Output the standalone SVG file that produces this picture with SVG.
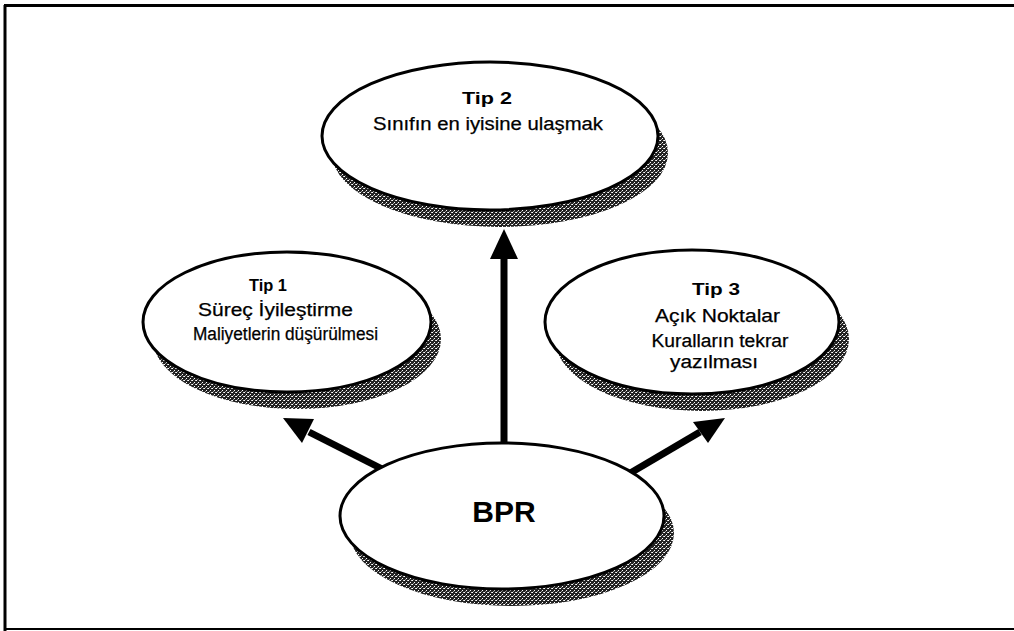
<svg xmlns="http://www.w3.org/2000/svg" width="1014" height="631" viewBox="0 0 1014 631">
<defs>
<pattern id="dither" width="4" height="4" patternUnits="userSpaceOnUse">
<rect width="4" height="4" fill="#222222"/>
<rect x="0" y="0" width="1" height="1" fill="#ffffff"/>
<rect x="2" y="2" width="1" height="1" fill="#ffffff"/>
<rect x="3" y="0" width="1" height="1" fill="#cccccc"/>
<rect x="1" y="3" width="1" height="1" fill="#999999"/>
</pattern>
<style>
.shadow{fill:url(#dither);stroke:none}
.node{fill:#ffffff;stroke:#000000;stroke-width:3}
.title{font-family:"Liberation Sans",Arial,sans-serif;font-weight:bold;font-size:17px;fill:#000;text-anchor:middle}
.body{font-family:"Liberation Sans",Arial,sans-serif;font-size:18px;fill:#000;text-anchor:middle;stroke:#000;stroke-width:0.25}
.big{font-family:"Liberation Sans",Arial,sans-serif;font-weight:bold;font-size:30px;fill:#000;text-anchor:middle}
.shaft{stroke:#000;stroke-width:7;fill:none}
.head{fill:#000;stroke:none}
</style>
</defs>
<rect width="1014" height="631" fill="#ffffff"/>
<g id="frame" fill="none" stroke="#000">
<line x1="5" y1="5" x2="5" y2="631" stroke-width="3"/>
<line x1="4" y1="5.5" x2="1014" y2="5.5" stroke-width="3"/>
<line x1="4" y1="629" x2="1014" y2="629" stroke-width="2"/>
</g>
<g id="connectors">
<line class="shaft" x1="504" y1="470" x2="504" y2="256"/>
<polygon class="head" points="504,229 490,259 518,259"/>
<line class="shaft" x1="400" y1="478" x2="309" y2="432"/>
<polygon class="head" points="283,418 314,419 302,443"/>
<line class="shaft" x1="610" y1="485" x2="700" y2="432"/>
<polygon class="head" points="725,418 693,422 708,443"/>
</g>
<g id="tip1">
<ellipse class="shadow" cx="297" cy="339" rx="144" ry="70"/>
<ellipse class="node" cx="287" cy="322" rx="144" ry="70"/>
<text class="title" x="268" y="291" textLength="38" lengthAdjust="spacingAndGlyphs">Tip 1</text>
<text class="body" x="275.5" y="316" textLength="155" lengthAdjust="spacingAndGlyphs">Süreç İyileştirme</text>
<text class="body" x="285.5" y="340" textLength="185" lengthAdjust="spacingAndGlyphs">Maliyetlerin düşürülmesi</text>
</g>
<g id="tip2">
<ellipse class="shadow" cx="500" cy="153" rx="168" ry="74"/>
<ellipse class="node" cx="490" cy="136" rx="168" ry="74"/>
<text class="title" x="487" y="104" textLength="50" lengthAdjust="spacingAndGlyphs">Tip 2</text>
<text class="body" x="488" y="130" textLength="230" lengthAdjust="spacingAndGlyphs">Sınıfın en iyisine ulaşmak</text>
</g>
<g id="tip3">
<ellipse class="shadow" cx="702" cy="339" rx="147" ry="72"/>
<ellipse class="node" cx="692" cy="322" rx="147" ry="72"/>
<text class="title" x="716" y="295" textLength="48" lengthAdjust="spacingAndGlyphs">Tip 3</text>
<text class="body" x="717.5" y="322" textLength="125" lengthAdjust="spacingAndGlyphs">Açık Noktalar</text>
<text class="body" x="720" y="347" textLength="137" lengthAdjust="spacingAndGlyphs">Kuralların tekrar</text>
<text class="body" x="714" y="368" textLength="88" lengthAdjust="spacingAndGlyphs">yazılması</text>
</g>
<g id="bpr">
<ellipse class="shadow" cx="512" cy="533" rx="162" ry="73"/>
<ellipse class="node" cx="502" cy="516" rx="162" ry="73"/>
<text class="big" x="504" y="522">BPR</text>
</g>
</svg>
